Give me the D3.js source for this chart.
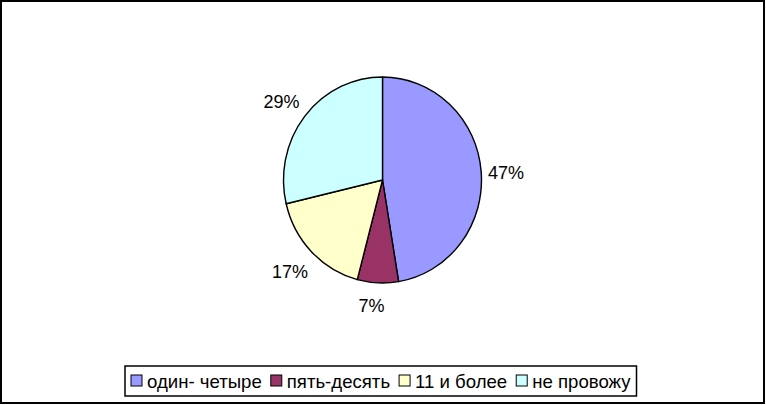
<!DOCTYPE html>
<html>
<head>
<meta charset="utf-8">
<script src="https://cdn.jsdelivr.net/npm/d3@7"></script>
<style>
  html, body { margin: 0; padding: 0; background: #fff; }
  svg { display: block; }
  text { font-family: "Liberation Sans", Arial, sans-serif; fill: #000; }
</style>
</head>
<body>
<svg id="chart" width="766" height="405"></svg>
<script>
const categories = ["один- четыре", "пять-десять", "11 и более", "не провожу"];
const values = [47.4, 6.7, 17.2, 28.7];
const labels = ["47%", "7%", "17%", "29%"];
const colors = ["#9999FF", "#993366", "#FFFFCC", "#CCFFFF"];

const svg = d3.select("#chart");
const W = 766, H = 405;

svg.append("rect")
  .attr("x", 1).attr("y", 1).attr("width", W - 3).attr("height", H - 3)
  .attr("fill", "#fff").attr("stroke", "#000").attr("stroke-width", 2);

const cx = 382.5, cy = 180, r = 99, sy = 103 / 99;

const pie = d3.pie().sort(null).value(d => d)(values);
const arc = d3.arc().innerRadius(0).outerRadius(r);
const labelArc = d3.arc().innerRadius(125).outerRadius(125);

const g = svg.append("g").attr("transform", `translate(${cx},${cy})`);
const gp = g.append("g").attr("transform", `scale(1,${sy})`);

gp.selectAll("path").data(pie).join("path")
  .attr("d", arc)
  .attr("fill", (d, i) => colors[i])
  .attr("stroke", "#000")
  .attr("stroke-width", 1.4)
  .attr("vector-effect", "non-scaling-stroke")
  .attr("stroke-linejoin", "round");

const labelOffsets = [[-1, 4], [-5, -4], [-3, 1], [-3, 3]];
g.selectAll("text.lbl").data(pie).join("text")
  .attr("class", "lbl")
  .attr("x", (d, i) => labelArc.centroid(d)[0] + labelOffsets[i][0])
  .attr("y", (d, i) => labelArc.centroid(d)[1] * sy + labelOffsets[i][1])
  .attr("text-anchor", "middle")
  .attr("dominant-baseline", "central")
  .attr("font-size", 18)
  .text((d, i) => labels[i]);

// Legend
const lg = svg.append("g");
const box = lg.append("rect")
  .attr("fill", "#fff").attr("stroke", "#000").attr("stroke-width", 1.5);
let x = 131;
const ly = 381;
categories.forEach((c, i) => {
  lg.append("rect")
    .attr("x", x).attr("y", ly - 6).attr("width", 11).attr("height", 11)
    .attr("fill", colors[i]).attr("stroke", "#000").attr("stroke-width", 1);
  const t = lg.append("text")
    .attr("x", x + 16).attr("y", ly)
    .attr("dominant-baseline", "central")
    .attr("font-size", 18.6)
    .text(c);
  x += 16 + t.node().getComputedTextLength() + 9;
});
box.attr("x", 125).attr("y", 366).attr("width", x - 125 - 3).attr("height", 30);
</script>
</body>
</html>
